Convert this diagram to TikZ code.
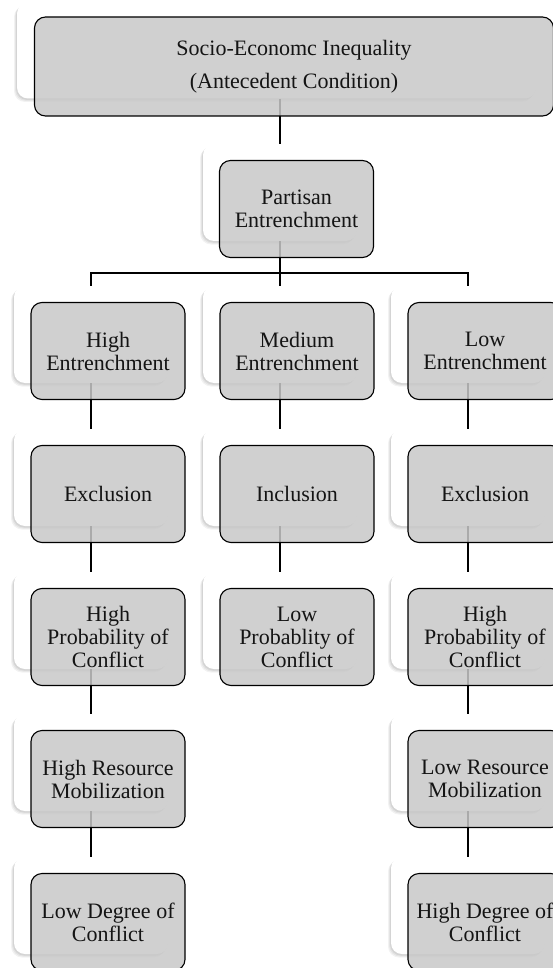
\documentclass[tikz,border=0pt]{standalone}
\usepackage{fontspec}
\setmainfont{Liberation Serif}
\usetikzlibrary{shadows}
\definecolor{boxgray}{RGB}{200,200,200}
\definecolor{txt}{RGB}{20,20,20}
\tikzset{
  card/.style={rectangle, rounded corners=11pt, fill=white, draw=none,
    minimum width=154pt, minimum height=97pt, inner sep=0pt,
    drop shadow={shadow xshift=-3pt, shadow yshift=-3.5pt, opacity=0.05, fill=black},
    drop shadow={shadow xshift=-2pt, shadow yshift=-2.5pt, opacity=0.06, fill=black},
    drop shadow={shadow xshift=-1pt, shadow yshift=-1.5pt, opacity=0.07, fill=black}},
  gbox/.style={rectangle, rounded corners=11pt, fill=boxgray, fill opacity=0.85,
    text opacity=1, draw=black, line width=1.1pt,
    minimum width=154pt, minimum height=97pt, inner sep=2pt,
    align=center, text=txt, font=\fontsize{22}{23}\selectfont},
  link/.style={draw=black, line width=1.1pt}
}
\begin{document}
\begin{tikzpicture}[x=1pt,y=-1pt]
\useasboundingbox (0,0) rectangle (553,968);
% back cards
\node[card, minimum width=519pt, minimum height=96pt] (bT) at (276.5,50.5) {};
\node[card] (bP) at (280,192.5) {};
\node[card] (bH1) at (91,334.5) {};
\node[card] (bM1) at (280,334.5) {};
\node[card] (bL1) at (468,334.5) {};
\node[card] (bH2) at (91,477.5) {};
\node[card] (bM2) at (280,477.5) {};
\node[card] (bL2) at (468,477.5) {};
\node[card] (bH3) at (91,620.5) {};
\node[card] (bM3) at (280,620.5) {};
\node[card] (bL3) at (468,620.5) {};
\node[card] (bH4) at (91,762.5) {};
\node[card] (bL4) at (468,762.5) {};
\node[card] (bH5) at (91,905.5) {};
\node[card] (bL5) at (468,905.5) {};
% connectors
\coordinate (bar) at (280,273);
\draw[link] (bP.north |- bT.south) -- (bP.north);
\draw[link] (bP.south) -- (bar);
\draw[link] (bH1.north) -- (bH1.north |- bar) -- (bL1.north |- bar) -- (bL1.north);
\draw[link] (bar) -- (bM1.north);
\draw[link] (bH1.south) -- (bH2.north);
\draw[link] (bM1.south) -- (bM2.north);
\draw[link] (bL1.south) -- (bL2.north);
\draw[link] (bH2.south) -- (bH3.north);
\draw[link] (bM2.south) -- (bM3.north);
\draw[link] (bL2.south) -- (bL3.north);
\draw[link] (bH3.south) -- (bH4.north);
\draw[link] (bL3.south) -- (bL4.north);
\draw[link] (bH4.south) -- (bH5.north);
\draw[link] (bL4.south) -- (bL5.north);
% front boxes
\node[gbox, minimum width=519pt, minimum height=99pt, font=\fontsize{22}{33}\selectfont] (top) at (294,66.5) {Socio-Economc Inequality\\(Antecedent Condition)};
\node[gbox] (part) at (296.5,209) {Partisan\\Entrenchment};
\node[gbox] (hent) at (108,351) {High\\Entrenchment};
\node[gbox] (ment) at (297,351) {Medium\\Entrenchment};
\node[gbox] (lent) at (485,351) {Low\\Entrenchment};
\node[gbox] (hexc) at (108,494) {Exclusion};
\node[gbox] (minc) at (297,494) {Inclusion};
\node[gbox] (lexc) at (485,494) {Exclusion};
\node[gbox] (hprob) at (108,637) {High\\Probability of\\Conflict};
\node[gbox] (mprob) at (297,637) {Low\\Probablity of\\Conflict};
\node[gbox] (lprob) at (485,637) {High\\Probability of\\Conflict};
\node[gbox] (hmob) at (108,779) {High Resource\\Mobilization};
\node[gbox] (lmob) at (485,779) {Low Resource\\Mobilization};
\node[gbox] (hdeg) at (108,922) {Low Degree of\\Conflict};
\node[gbox] (ldeg) at (485,922) {High Degree of\\Conflict};
\end{tikzpicture}
\end{document}
